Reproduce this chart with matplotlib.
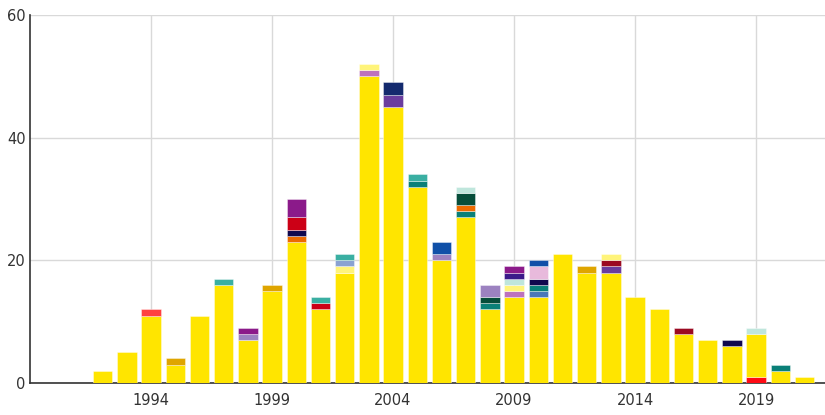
import matplotlib
matplotlib.use("Agg")
import matplotlib.pyplot as plt
import numpy as np


years = list(range(1992, 2022))

# base series (yellow), one entry per year 1992..2021
yellow = [2, 5, 11, 3, 11, 16, 7, 15, 23, 12, 18, 50, 45, 32, 20,
          27, 12, 14, 14, 21, 18, 18, 14, 12, 8, 7, 6, 7, 2, 1]

# the small series, given as {year: value}
bright_red = {2019: 1}
steel_blue = {2010: 1}
orchid = {2003: 1, 2009: 1}
rebecca = {2004: 2, 2013: 1}
dark_red = {2013: 1, 2016: 1}
light_yellow = {2002: 1, 2003: 1, 2009: 1, 2013: 1}
light_blue = {2002: 1}
dark_teal = {2005: 1, 2007: 1, 2008: 1, 2010: 1, 2020: 1}
orange = {2000: 1, 2007: 1}
navy = {2000: 1, 2010: 1, 2018: 1}
red = {2000: 2, 2001: 1}
dark_green = {2007: 2, 2008: 1}
mint = {2007: 1, 2009: 1, 2019: 1}
indigo = {2009: 1}
light_purple = {1998: 1, 2006: 1, 2008: 2}
purple = {1998: 1, 2000: 3, 2009: 1}
pink = {2010: 2}
blue = {2006: 2, 2010: 1}
teal = {1997: 1, 2001: 1, 2002: 1, 2005: 1}
navy_blue = {2004: 2}
gold = {1995: 1, 1999: 1, 2012: 1}
light_red = {1994: 1}


def expand(d):
	return [d.get(y, 0) for y in years]
#end_def


def main():

	yellow_list = yellow

	# stacking order, bottom to top
	series = [
		(expand(bright_red), "#ff0a14"),
		(yellow_list, "#ffe500"),
		(expand(steel_blue), "#4a78b8"),
		(expand(orchid), "#bd72bd"),
		(expand(rebecca), "#6a3d9e"),
		(expand(dark_red), "#9b0a22"),
		(expand(light_yellow), "#fff47a"),
		(expand(light_blue), "#8aa2d2"),
		(expand(dark_teal), "#0a8078"),
		(expand(orange), "#ec6a00"),
		(expand(navy), "#10084e"),
		(expand(red), "#cc0016"),
		(expand(dark_green), "#064d3a"),
		(expand(mint), "#bfe6dc"),
		(expand(indigo), "#3c1a8a"),
		(expand(light_purple), "#9c82c0"),
		(expand(purple), "#8b1a8a"),
		(expand(pink), "#e8badc"),
		(expand(blue), "#1050a8"),
		(expand(teal), "#3aafa2"),
		(expand(navy_blue), "#142a6e"),
		(expand(gold), "#dfa500"),
		(expand(light_red), "#ff4040"),
	]

	fig = plt.figure(figsize=(8.25, 4.15), dpi=100)
	ax = fig.add_axes([0.0364, 0.0771, 0.9636, 0.8867])

	x = np.array(years, dtype=float)
	bottom = np.zeros(len(years))
	for values, color in series:
		v = np.array(values, dtype=float)
		mask = v > 0
		ax.bar(x[mask], v[mask], width=0.8, bottom=bottom[mask], color=color,
		       edgecolor=(1, 1, 1, 0.45), linewidth=0.6, zorder=3)
		bottom += v
	#end_for

	ax.set_xlim(1989, 2021.85)
	ax.set_ylim(0, 60)
	ax.set_yticks([0, 20, 40, 60])
	ax.set_xticks([1994, 1999, 2004, 2009, 2014, 2019])

	ax.grid(True, color="#d9d9d9", linewidth=1.0, zorder=0)
	ax.set_axisbelow(True)

	for s in ["top", "right"]:
		ax.spines[s].set_visible(False)
	#end_for
	ax.spines["left"].set_color("#333333")
	ax.spines["bottom"].set_color("#333333")
	ax.spines["left"].set_linewidth(1.2)
	ax.spines["bottom"].set_linewidth(1.2)

	ax.tick_params(axis="both", length=0, labelsize=10.5, labelcolor="#333333")
	ax.tick_params(axis="y", pad=3)
	ax.tick_params(axis="x", pad=7)

	fig.savefig("out.png", dpi=100)

	return
#end_def


main()
